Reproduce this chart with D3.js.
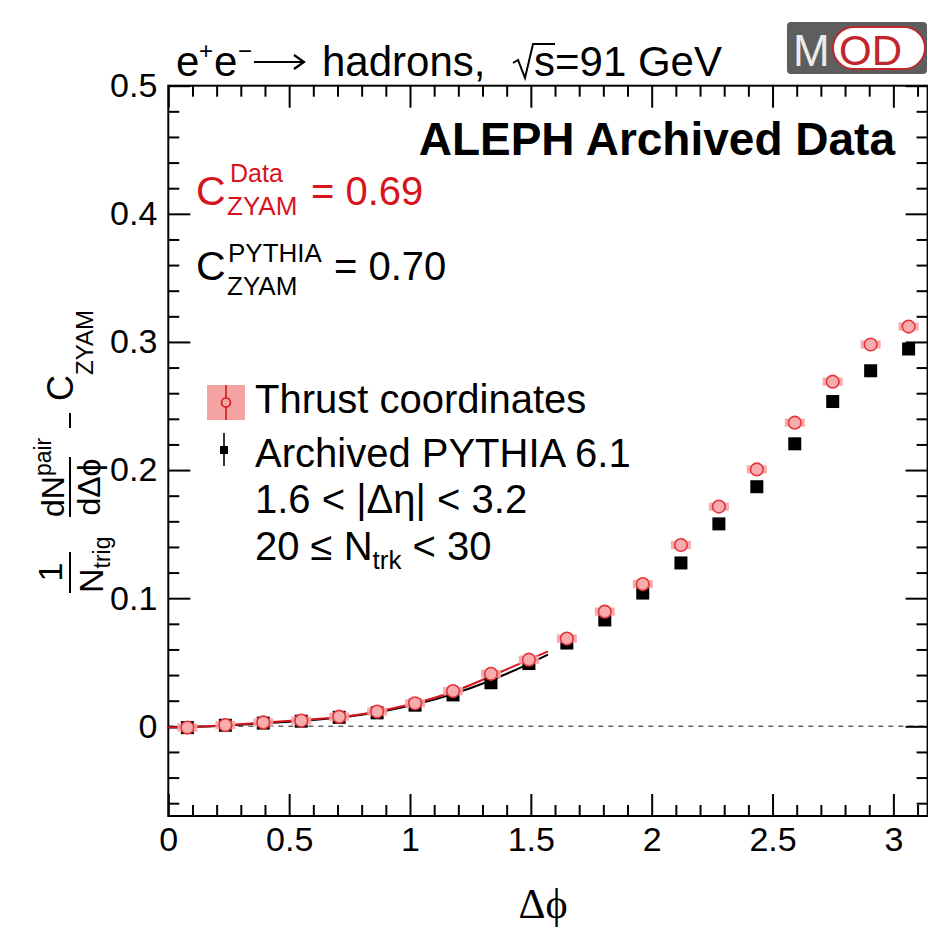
<!DOCTYPE html>
<html>
<head>
<meta charset="utf-8">
<script src="https://cdn.jsdelivr.net/npm/d3@7"></script>
<style>
  body { margin: 0; background: #fff; }
  svg { display: block; }
  text { font-family: "Liberation Sans", Arial, Helvetica, sans-serif; }
</style>
</head>
<body>
<svg id="chart" width="928" height="932"></svg>
<script>
// Δφ bin centres (20 bins over 0..π)
const dphi = [0.079, 0.236, 0.393, 0.550, 0.707, 0.864, 1.021, 1.178, 1.335, 1.492,
              1.649, 1.806, 1.963, 2.121, 2.278, 2.435, 2.592, 2.749, 2.906, 3.063];
// Thrust-axis data, ZYAM subtracted
const thrustData = [-0.001, 0.001, 0.003, 0.0045, 0.0075, 0.0115, 0.018, 0.0275, 0.041, 0.052,
                    0.0685, 0.0895, 0.111, 0.1415, 0.1715, 0.2005, 0.237, 0.269, 0.298, 0.312];
const thrustSys = [0.0032, 0.0032, 0.0032, 0.0032, 0.0032, 0.0032, 0.0032, 0.0032, 0.0032, 0.0032,
                   0.0032, 0.0032, 0.0032, 0.0032, 0.0032, 0.0032, 0.0032, 0.0032, 0.0032, 0.0032];
// Archived PYTHIA 6.1, ZYAM subtracted
const pythiaMC = [-0.001, 0.0008, 0.0025, 0.004, 0.007, 0.0105, 0.0165, 0.0245, 0.034, 0.049,
                  0.065, 0.083, 0.104, 0.1275, 0.158, 0.187, 0.2205, 0.2535, 0.2775, 0.2945];
// ZYAM fit curves on the near side (0..π/2)
const fitPhi    = [0, 0.2, 0.4, 0.6, 0.8, 1.0, 1.2, 1.4, 1.5708];
const fitData   = [-0.0008, 0.0005, 0.003, 0.0055, 0.0095, 0.017, 0.0285, 0.0445, 0.0585];
const fitPythia = [-0.001, 0.0003, 0.0025, 0.005, 0.009, 0.016, 0.0265, 0.041, 0.056];
// axis ticks
const xMajor = [0, 0.5, 1, 1.5, 2, 2.5, 3];
const yMajor = [0, 0.1, 0.2, 0.3, 0.4, 0.5];
const cZyamData = "0.69";
const cZyamPythia = "0.70";

const RED = "#d7141c";
const PINK = "#f4a3a3";

const svg = d3.select("#chart");
const L = 168.3, R = 927.6, T = 85.7, B = 816;

const x = d3.scaleLinear().domain([0, Math.PI]).range([L, R]);
const y = d3.scaleLinear().domain([-0.07, 0.5]).range([B, T]);

const xMinor = d3.range(0, 3.15, 0.1).filter(v => Math.abs(v * 2 - Math.round(v * 2)) > 1e-6);
const yMinor = d3.range(-0.06, 0.5, 0.02).filter(v => Math.abs(v * 10 - Math.round(v * 10)) > 1e-6);

// zero line
svg.append("line")
  .attr("x1", x(0)).attr("x2", x(Math.PI)).attr("y1", y(0)).attr("y2", y(0))
  .attr("stroke", "#666").attr("stroke-width", 1.6).attr("stroke-dasharray", "5,5");

// axes with inward ticks on all four sides
function styleAxis(g) {
  g.select(".domain").remove();
  g.selectAll(".tick line").attr("stroke", "#000").attr("stroke-width", 2);
  g.selectAll("text").style("font-size", "34px").style("fill", "#000");
}
const fmt = d3.format("~g");
svg.append("g").attr("transform", `translate(0,${B})`)
  .call(d3.axisBottom(x).tickValues(xMajor).tickSizeInner(-22).tickSizeOuter(0).tickPadding(11).tickFormat(fmt))
  .call(styleAxis);
svg.append("g").attr("transform", `translate(0,${B})`)
  .call(d3.axisBottom(x).tickValues(xMinor).tickSizeInner(-11).tickSizeOuter(0).tickFormat(""))
  .call(styleAxis);
svg.append("g").attr("transform", `translate(0,${T})`)
  .call(d3.axisTop(x).tickValues(xMajor).tickSizeInner(-22).tickSizeOuter(0).tickFormat(""))
  .call(styleAxis);
svg.append("g").attr("transform", `translate(0,${T})`)
  .call(d3.axisTop(x).tickValues(xMinor).tickSizeInner(-11).tickSizeOuter(0).tickFormat(""))
  .call(styleAxis);
svg.append("g").attr("transform", `translate(${L},0)`)
  .call(d3.axisLeft(y).tickValues(yMajor).tickSizeInner(-22).tickSizeOuter(0).tickPadding(11).tickFormat(fmt))
  .call(styleAxis);
svg.append("g").attr("transform", `translate(${L},0)`)
  .call(d3.axisLeft(y).tickValues(yMinor).tickSizeInner(-11).tickSizeOuter(0).tickFormat(""))
  .call(styleAxis);
svg.append("g").attr("transform", `translate(${R},0)`)
  .call(d3.axisRight(y).tickValues(yMajor).tickSizeInner(-22).tickSizeOuter(0).tickFormat(""))
  .call(styleAxis);
svg.append("g").attr("transform", `translate(${R},0)`)
  .call(d3.axisRight(y).tickValues(yMinor).tickSizeInner(-11).tickSizeOuter(0).tickFormat(""))
  .call(styleAxis);

// frame
svg.append("rect").attr("x", L).attr("y", T).attr("width", R - L).attr("height", B - T)
  .attr("fill", "none").attr("stroke", "#000").attr("stroke-width", 2);

// fit curves
const fitLine = vals => d3.line().x((d, i) => x(fitPhi[i])).y(d => y(d)).curve(d3.curveNatural)(vals);
svg.append("path").attr("d", fitLine(fitPythia)).attr("fill", "none").attr("stroke", "#000").attr("stroke-width", 2);
svg.append("path").attr("d", fitLine(fitData)).attr("fill", "none").attr("stroke", RED).attr("stroke-width", 2);

// PYTHIA points: filled squares
const sq = 13;
svg.append("g").selectAll("rect").data(pythiaMC).join("rect")
  .attr("x", (d, i) => x(dphi[i]) - sq / 2).attr("y", d => y(d) - sq / 2)
  .attr("width", sq).attr("height", sq).attr("fill", "#000");

// data points: systematic boxes + open circles
svg.append("g").selectAll("rect").data(thrustData).join("rect")
  .attr("x", (d, i) => x(dphi[i]) - 10).attr("y", (d, i) => y(d + thrustSys[i]))
  .attr("width", 20).attr("height", (d, i) => y(d - thrustSys[i]) - y(d + thrustSys[i]))
  .attr("fill", PINK).attr("opacity", 0.9);
svg.append("g").selectAll("circle").data(thrustData).join("circle")
  .attr("cx", (d, i) => x(dphi[i])).attr("cy", d => y(d)).attr("r", 6.3)
  .attr("fill", "#f7adad").attr("stroke", "#e8333a").attr("stroke-width", 1.6);

// title: e+e- -> hadrons, sqrt(s)=91 GeV
{
  const g = svg.append("g").style("font-size", "42px");
  const base = 76;
  g.append("text").attr("x", 176).attr("y", base).text("e");
  g.append("text").attr("x", 199).attr("y", base - 17).style("font-size", "24px").text("+");
  g.append("text").attr("x", 214).attr("y", base).text("e");
  g.append("text").attr("x", 238).attr("y", base - 17).style("font-size", "24px").text("\u2212");
  g.append("path").attr("d", "M254,62 H303 M294,55 L304,62 L294,69")
    .attr("fill", "none").attr("stroke", "#000").attr("stroke-width", 2.2);
  g.append("text").attr("x", 322).attr("y", base).text("hadrons,");
  g.append("path").attr("d", "M513,63 L518,60 L525,78 L533,44 H555")
    .attr("fill", "none").attr("stroke", "#000").attr("stroke-width", 2);
  g.append("text").attr("x", 534).attr("y", base).text("s=91 GeV");
}

// MOD logo
{
  const g = svg.append("g").attr("transform", "translate(787,22)");
  g.append("rect").attr("width", 140).attr("height", 52).attr("rx", 4).attr("fill", "#5e5e5e");
  g.append("text").attr("x", 6).attr("y", 44).text("M").style("font-size", "44px").style("fill", "#ececec");
  g.append("rect").attr("x", 46).attr("y", 5).attr("width", 92).attr("height", 42).attr("rx", 21)
    .attr("fill", "#fff").attr("stroke", "#c0262c").attr("stroke-width", 2);
  g.append("text").attr("x", 52).attr("y", 43).text("OD").style("font-size", "42px").style("fill", "#c0262c");
}

// experiment label
svg.append("text").attr("x", 895).attr("y", 155).attr("text-anchor", "end")
  .style("font-size", "46px").style("font-weight", "bold").text("ALEPH Archived Data");

// ZYAM constants
{
  const g1 = svg.append("g").style("fill", RED);
  g1.append("text").attr("x", 196).attr("y", 205).style("font-size", "41px").text("C");
  g1.append("text").attr("x", 230).attr("y", 182).style("font-size", "25px").text("Data");
  g1.append("text").attr("x", 227).attr("y", 215).style("font-size", "26px").text("ZYAM");
  g1.append("text").attr("x", 311).attr("y", 205).style("font-size", "40px").text("= " + cZyamData);

  const g2 = svg.append("g").style("fill", "#000");
  g2.append("text").attr("x", 196).attr("y", 280).style("font-size", "41px").text("C");
  g2.append("text").attr("x", 228).attr("y", 262).style("font-size", "26px").text("PYTHIA");
  g2.append("text").attr("x", 227).attr("y", 295).style("font-size", "26px").text("ZYAM");
  g2.append("text").attr("x", 334).attr("y", 280).style("font-size", "40px").text("= " + cZyamPythia);
}

// legend
{
  const g = svg.append("g");
  g.append("rect").attr("x", 207).attr("y", 385).attr("width", 38).attr("height", 35).attr("fill", PINK);
  g.append("line").attr("x1", 226).attr("x2", 226).attr("y1", 385).attr("y2", 420).attr("stroke", RED).attr("stroke-width", 1.6);
  g.append("circle").attr("cx", 226).attr("cy", 402.5).attr("r", 4.5).attr("fill", PINK).attr("stroke", RED).attr("stroke-width", 1.6);
  g.append("line").attr("x1", 224).attr("x2", 224).attr("y1", 433).attr("y2", 466).attr("stroke", "#000").attr("stroke-width", 1.6);
  g.append("rect").attr("x", 220).attr("y", 446).attr("width", 8).attr("height", 8).attr("fill", "#000");

  const fs = "40px";
  g.append("text").attr("x", 255).attr("y", 413).style("font-size", fs).text("Thrust coordinates");
  g.append("text").attr("x", 255).attr("y", 467).style("font-size", fs).text("Archived PYTHIA 6.1");
  g.append("text").attr("x", 255).attr("y", 513).style("font-size", fs).text("1.6 < |\u0394\u03B7| < 3.2");
  const n = g.append("text").attr("x", 255).attr("y", 560).style("font-size", fs);
  n.append("tspan").text("20 \u2264 N");
  n.append("tspan").text("trk").style("font-size", "26px").attr("dy", 9);
  n.append("tspan").text(" < 30").attr("dy", -9);
}

// x-axis title
svg.append("text").attr("x", 543).attr("y", 918).attr("text-anchor", "middle")
  .style("font-family", "'Liberation Serif', 'DejaVu Serif', serif").style("font-size", "42px").text("\u0394\u03D5");

// y-axis title, built in a rotated frame
{
  const g = svg.append("g").attr("transform", "translate(70,450) rotate(-90)");
  const fs = 32, fsS = 23;
  // 1 / N_trig
  g.append("line").attr("x1", -143).attr("x2", -102).attr("y1", 0).attr("y2", 0).attr("stroke", "#000").attr("stroke-width", 2);
  g.append("text").attr("x", -122).attr("y", -8).attr("text-anchor", "middle").style("font-size", "34px").text("1");
  const nt = g.append("text").attr("x", -143).attr("y", 33).style("font-size", "34px");
  nt.append("tspan").text("N");
  nt.append("tspan").text("trig").style("font-size", fsS + "px").attr("dy", 7);
  // dN^pair / dΔφ
  g.append("line").attr("x1", -67).attr("x2", -7).attr("y1", 0).attr("y2", 0).attr("stroke", "#000").attr("stroke-width", 2);
  const dn = g.append("text").attr("x", -67).attr("y", -6).style("font-size", fs + "px");
  dn.append("tspan").text("dN");
  dn.append("tspan").text("pair").style("font-size", fsS + "px").attr("dy", -13);
  g.append("text").attr("x", -37).attr("y", 30).attr("text-anchor", "middle").style("font-size", fs + "px").text("d\u0394\u03D5");
  // − C_ZYAM
  g.append("line").attr("x1", 22).attr("x2", 37).attr("y1", 0).attr("y2", 0).attr("stroke", "#000").attr("stroke-width", 2);
  const cz = g.append("text").attr("x", 49).attr("y", 3).style("font-size", "36px");
  cz.append("tspan").text("C");
  cz.append("tspan").text("ZYAM").style("font-size", "24px").attr("dy", 20);
}
</script>
</body>
</html>
